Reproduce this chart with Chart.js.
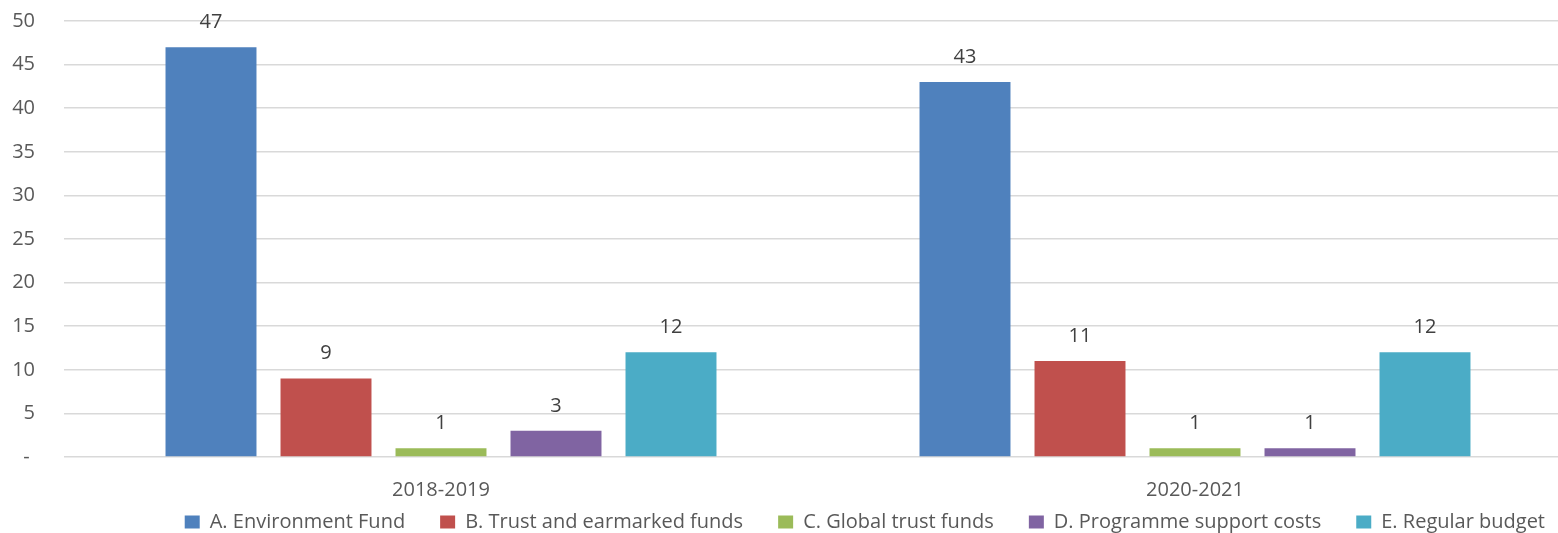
<!DOCTYPE html>
<html>
<head>
<meta charset="utf-8">
<title>Budget by source</title>
<script src="https://cdn.jsdelivr.net/npm/chart.js@4/dist/chart.umd.min.js"></script>
<style>
  html, body { margin: 0; padding: 0; background: #fff; overflow: hidden; }
  #wrap { width: 1558px; height: 533px; overflow: hidden; }
  canvas { display: block; }
</style>
</head>
<body>
<div id="wrap"><canvas id="chart" width="1572" height="567"></canvas></div>
<script>
const periods = ["2018-2019", "2020-2021"];
const seriesNames = [
  "A. Environment Fund",
  "B. Trust and earmarked funds",
  "C. Global trust funds",
  "D. Programme support costs",
  "E. Regular budget",
];
const environmentFund = [47, 43];
const trustEarmarked = [9, 11];
const globalTrust = [1, 1];
const programmeSupport = [3, 1];
const regularBudget = [12, 12];
const colors = ["#4f81bd", "#c0504d", "#9bbb59", "#8064a2", "#4bacc6"];

const FONT = "'Open Sans', sans-serif";

// draws the value above every bar
const valueLabels = {
  id: "valueLabels",
  afterDatasetsDraw(chart) {
    const ctx = chart.ctx;
    ctx.save();
    ctx.font = "20px " + FONT;
    ctx.fillStyle = "#404040";
    ctx.textAlign = "center";
    ctx.textBaseline = "middle";
    chart.data.datasets.forEach((ds, i) => {
      chart.getDatasetMeta(i).data.forEach((bar, j) => {
        ctx.fillText(ds.data[j], bar.x, bar.y - 25);
      });
    });
    ctx.restore();
  },
};

// legend sits closer to the axis labels than its padding allows
const legendShift = {
  id: "legendShift",
  afterLayout(chart) {
    const lg = chart.legend;
    const dy = lg.top - (chart.chartArea.bottom + 20);
    lg.top -= dy;
    lg.bottom -= dy;
    lg.left += 8;
    lg.right += 8;
  },
};

const allSeries = [environmentFund, trustEarmarked, globalTrust, programmeSupport, regularBudget];

const chart = new Chart(document.getElementById("chart"), {
  type: "bar",
  data: {
    labels: periods,
    datasets: allSeries.map((values, i) => ({
      label: seriesNames[i],
      data: values,
      backgroundColor: colors[i],
      borderWidth: 0,
      categoryPercentage: 0.7626,
      barPercentage: 0.791,
    })),
  },
  options: {
    responsive: false,
    animation: false,
    devicePixelRatio: 1,
    layout: { padding: { left: 12, right: 0, top: 21, bottom: 0 } },
    plugins: {
      tooltip: { enabled: false },
      legend: {
        position: "bottom",
        align: "end",
        labels: {
          font: { family: FONT, size: 20 },
          color: "#595959",
          boxWidth: 15,
          boxHeight: 13,
          padding: 35,
        },
      },
    },
    scales: {
      x: {
        grid: { display: false, drawTicks: false },
        border: { display: false },
        ticks: {
          font: { family: FONT, size: 20, lineHeight: 1 },
          color: "#595959",
          padding: 23,
        },
        afterFit(scale) {
          scale.height = 45;
        },
      },
      y: {
        min: 0,
        max: 50,
        grid: { color: "#d9d9d9", lineWidth: 1.5, drawTicks: false },
        border: { display: false },
        ticks: {
          stepSize: 5,
          font: { family: FONT, size: 20 },
          color: "#595959",
          padding: 29,
          callback: (v) => (v === 0 ? "- " : v),
        },
        afterFit(scale) {
          scale.width = 52;
          scale.paddingTop = 0;
          scale.paddingBottom = 0;
        },
      },
    },
  },
  plugins: [valueLabels, legendShift],
});
</script>
</body>
</html>
